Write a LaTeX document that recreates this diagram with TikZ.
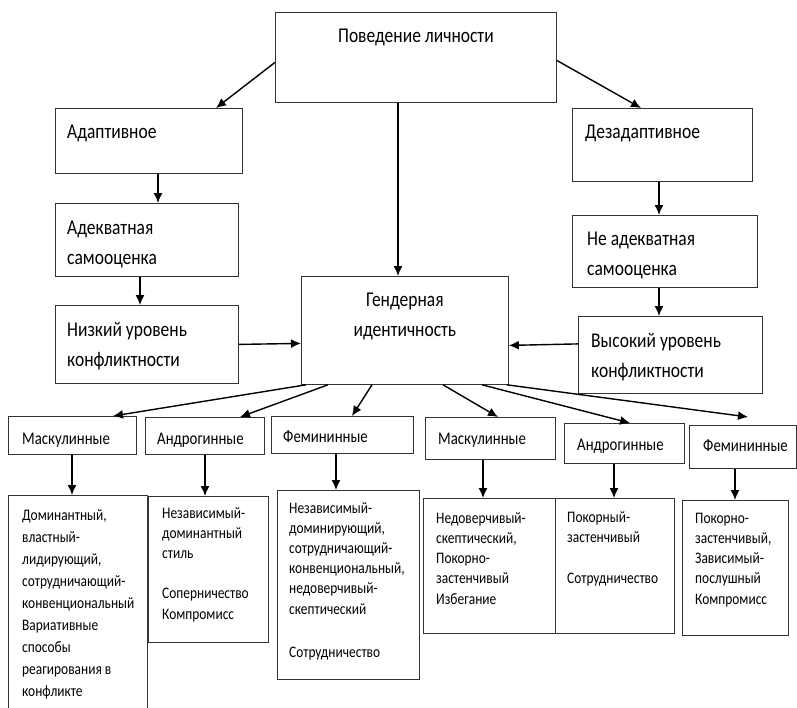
\documentclass[tikz,border=0pt]{standalone}
\usepackage{fontspec}
\setmainfont{Carlito}
\usetikzlibrary{arrows.meta}

\tikzset{
  box/.style={draw=black!80, line width=0.8pt, anchor=north west, inner sep=0pt},
  lbl/.style={anchor=base west, align=left, inner sep=0pt, yscale=1.2, font=\fontsize{17.5}{25}\selectfont},
  cat/.style={lbl, font=\fontsize{14.8}{18}\selectfont},
  note/.style={lbl, font=\fontsize{13.4}{16.8}\selectfont},
}

\begin{document}
\begin{tikzpicture}[x=1pt, y=-1pt, >={Latex[length=10pt,width=9pt]}]
  \useasboundingbox (0,0) rectangle (797,707);

  % upper part
  \node[box, minimum width=281pt, minimum height=90pt] (beh) at (275,12) {};
  \node[box, minimum width=187pt, minimum height=65pt] (adapt) at (55,108) {};
  \node[box, minimum width=180pt, minimum height=73pt] (desad) at (572,108) {};
  \node[box, minimum width=183pt, minimum height=73pt] (adeq) at (55,203) {};
  \node[box, minimum width=185pt, minimum height=72pt] (nadeq) at (572,215) {};
  \node[box, minimum width=183pt, minimum height=78pt] (low) at (55,305) {};
  \node[box, minimum width=184pt, minimum height=77pt] (high) at (578,316) {};
  \node[box, minimum width=207pt, minimum height=108pt] (gend) at (301,276) {};

  % base of a text = baseline of its last line
  \node[lbl, anchor=base] (beh-t) at ([yshift=-30pt]beh.north) {Поведение личности};
  \node[lbl] (adapt-t) at ([xshift=12pt,yshift=-30pt]adapt.north west) {Адаптивное};
  \node[lbl] (desad-t) at ([xshift=13pt,yshift=-30pt]desad.north west) {Дезадаптивное};
  \node[lbl] (adeq-t) at ([xshift=12pt,yshift=-61pt]adeq.north west) {Адекватная\\самооценка};
  \node[lbl] (nadeq-t) at ([xshift=15pt,yshift=-60pt]nadeq.north west) {Не адекватная\\самооценка};
  \node[lbl] (low-t) at ([xshift=12pt,yshift=-61pt]low.north west) {Низкий уровень\\конфликтности};
  \node[lbl] (high-t) at ([xshift=13pt,yshift=-61pt]high.north west) {Высокий уровень\\конфликтности};
  \node[lbl, anchor=base, align=center] (gend-t) at ([yshift=-60pt]gend.north) {Гендерная\\идентичность};

  \draw[->, line width=1.4pt] ([yshift=-5pt]beh.west) -- ([xshift=161pt]adapt.north west);
  \draw[->, line width=1.4pt] ([yshift=-3pt]beh.east) -- ([xshift=69pt]desad.north west);
  \draw[->, line width=1.4pt] ([xshift=123pt]beh.south west) -- ([xshift=97pt]gend.north west);
  \draw[->, line width=1.4pt] ([xshift=103pt]adapt.south west) -- ([xshift=103pt]adeq.north west);
  \draw[->, line width=1.4pt] ([xshift=85pt]adeq.south west) -- ([xshift=85pt]low.north west);
  \draw[->, line width=1.4pt] ([xshift=87pt]desad.south west) -- ([xshift=87pt]nadeq.north west);
  \draw[->, line width=1.4pt] ([xshift=87pt]nadeq.south west) -- ([xshift=81pt]high.north west);
  \draw[->, line width=1.4pt] (low.east) -- ([yshift=-13pt]gend.west);
  \draw[->, line width=1.4pt] ([yshift=11pt]high.west) -- ([yshift=-15pt]gend.east);

  % gender types
  \node[box, minimum width=128pt, minimum height=38pt] (mascA) at (8,416) {};
  \node[box, minimum width=119pt, minimum height=37pt] (androA) at (145,417) {};
  \node[box, minimum width=142pt, minimum height=37pt] (femA) at (271,416) {};
  \node[box, minimum width=130pt, minimum height=42pt] (mascB) at (425,417) {};
  \node[box, minimum width=120pt, minimum height=40pt] (androB) at (564,423) {};
  \node[box, minimum width=107pt, minimum height=43pt] (femB) at (689,425) {};

  \node[cat] (mascA-t) at ([xshift=14pt,yshift=-28pt]mascA.north west) {Маскулинные};
  \node[cat] (androA-t) at ([xshift=12pt,yshift=-27pt]androA.north west) {Андрогинные};
  \node[cat] (femA-t) at ([xshift=12pt,yshift=-26pt]femA.north west) {Фемининные};
  \node[cat] (mascB-t) at ([xshift=13pt,yshift=-27pt]mascB.north west) {Маскулинные};
  \node[cat] (androB-t) at ([xshift=13pt,yshift=-27pt]androB.north west) {Андрогинные};
  \node[cat] (femB-t) at ([xshift=14pt,yshift=-26pt]femB.north west) {Фемининные};

  \draw[->, line width=1.4pt] ([xshift=5pt]gend.south west) -- ([xshift=105pt]mascA.north west);
  \draw[->, line width=1.4pt] ([xshift=27pt]gend.south west) -- ([xshift=95pt]androA.north west);
  \draw[->, line width=1.4pt] ([xshift=71pt]gend.south west) -- ([xshift=81pt]femA.north west);
  \draw[->, line width=1.4pt] ([xshift=142pt]gend.south west) -- ([xshift=73pt]mascB.north west);
  \draw[->, line width=1.4pt] ([xshift=181pt]gend.south west) -- ([xshift=66pt]androB.north west);
  \draw[->, line width=1.4pt] ([xshift=-2pt]gend.south east) -- ([xshift=59pt,yshift=8pt]femB.north west);

  % styles in conflict
  \node[box, minimum width=139pt, minimum height=240pt] (mascAs) at (8,495) {};
  \node[box, minimum width=120pt, minimum height=146pt] (androAs) at (148,496) {};
  \node[box, minimum width=142pt, minimum height=189pt] (femAs) at (277,490) {};
  \node[box, minimum width=132pt, minimum height=135pt] (mascBs) at (423,498) {};
  \node[box, minimum width=119pt, minimum height=135pt] (androBs) at (555,498) {};
  \node[box, minimum width=106pt, minimum height=135pt] (femBs) at (682,500) {};

  \node[note, font=\fontsize{13.4}{18.3}\selectfont] (mascAs-t) at ([xshift=14pt,yshift=-201pt]mascAs.north west)
    {Доминантный,\\властный-\\лидирующий,\\сотрудничающий-\\конвенциональный\\Вариативные\\способы\\реагирования в\\конфликте};
  \node[note] (androAs-t) at ([xshift=14pt,yshift=-123pt]androAs.north west)
    {Независимый-\\доминантный\\стиль\\[16.8pt]Соперничество\\Компромисс};
  \node[note] (femAs-t) at ([xshift=12pt,yshift=-167pt]femAs.north west)
    {Независимый-\\доминирующий,\\сотрудничающий-\\конвенциональный,\\недоверчивый-\\скептический\\[19pt]Сотрудничество};
  \node[note] (mascBs-t) at ([xshift=13pt,yshift=-106pt]mascBs.north west)
    {Недоверчивый-\\скептический,\\Покорно-\\застенчивый\\Избегание};
  \node[note] (androBs-t) at ([xshift=12pt,yshift=-85pt]androBs.north west)
    {Покорный-\\застенчивый\\[16.8pt]Сотрудничество};
  \node[note] (femBs-t) at ([xshift=13pt,yshift=-104pt]femBs.north west)
    {Покорно-\\застенчивый,\\Зависимый-\\послушный\\Компромисс};

  \draw[->, line width=1.4pt] ([xshift=64pt]mascA.south west) -- ([xshift=64pt]mascAs.north west);
  \draw[->, line width=1.4pt] ([xshift=60pt]androA.south west) -- ([xshift=57pt]androAs.north west);
  \draw[->, line width=1.4pt] ([xshift=65pt]femA.south west) -- ([xshift=59pt]femAs.north west);
  \draw[->, line width=1.4pt] ([xshift=58pt]mascB.south west) -- ([xshift=60pt]mascBs.north west);
  \draw[->, line width=1.4pt] ([xshift=50pt]androB.south west) -- ([xshift=59pt]androBs.north west);
  \draw[->, line width=1.4pt] ([xshift=46pt]femB.south west) -- ([xshift=53pt]femBs.north west);
\end{tikzpicture}
\end{document}
